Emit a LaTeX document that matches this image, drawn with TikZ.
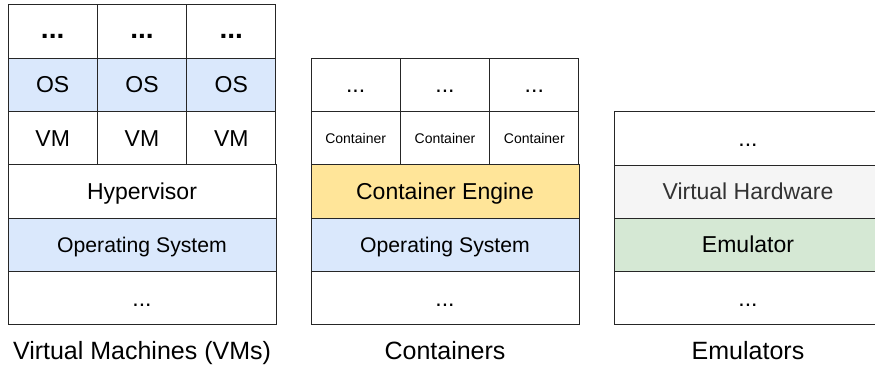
\documentclass[tikz,border=0pt]{standalone}
\usepackage{fontspec}
\setmainfont{Liberation Sans}
\usetikzlibrary{positioning}
\definecolor{osblue}{HTML}{DAE8FC}
\definecolor{engineyellow}{HTML}{FFE599}
\definecolor{hwgray}{HTML}{F5F5F5}
\definecolor{emugreen}{HTML}{D5E8D4}
\definecolor{hwtext}{HTML}{333333}

\begin{document}
\begin{tikzpicture}[x=1pt, y=-1pt,
    cell/.style={draw=black!85, line width=1pt, inner sep=0pt, outer sep=0pt, minimum height=53.33pt, text height=16pt, text depth=0pt, font=\fontsize{23}{27}\selectfont},
    wide/.style={cell, minimum width=268pt},
    narrow/.style={cell, minimum width=89.33pt},
    hostos/.style={wide, fill=osblue, font=\fontsize{21.2}{25}\selectfont},
    bigdots/.style={font=\fontsize{28}{30}\selectfont\bfseries, text height=13pt},
    small/.style={font=\fontsize{14}{17}\selectfont, text height=10pt},
    caption/.style={font=\fontsize{25}{30}\selectfont, text height=18pt, text depth=0pt, inner sep=0pt}]
  \useasboundingbox (0,0) rectangle (875,369);
  % virtual machines
  \node[narrow, bigdots, anchor=north west] (vmtopa) at (8,5) {...};
  \node[narrow, bigdots, right=0pt of vmtopa] (vmtopb) {...};
  \node[narrow, bigdots, right=0pt of vmtopb] (vmtopc) {...};
  \node[narrow, fill=osblue, below=0pt of vmtopa] (guesta) {OS};
  \node[narrow, fill=osblue, right=0pt of guesta] (guestb) {OS};
  \node[narrow, fill=osblue, right=0pt of guestb] (guestc) {OS};
  \node[narrow, below=0pt of guesta] (vma) {VM};
  \node[narrow, right=0pt of vma] (vmb) {VM};
  \node[narrow, right=0pt of vmb] (vmc) {VM};
  \node[wide, anchor=north west] (hyp) at (vma.south west) {Hypervisor};
  \node[hostos, below=0pt of hyp] (vmos) {Operating System};
  \node[wide, below=0pt of vmos] (vmbase) {...};
  \node[caption] (vmcap) at ([yshift=-26pt]vmbase.south) {Virtual Machines (VMs)};
  % containers
  \node[narrow, anchor=north west] (ctopa) at (311,58.33) {...};
  \node[narrow, right=0pt of ctopa] (ctopb) {...};
  \node[narrow, right=0pt of ctopb] (ctopc) {...};
  \node[narrow, small, below=0pt of ctopa] (conta) {Container};
  \node[narrow, small, right=0pt of conta] (contb) {Container};
  \node[narrow, small, right=0pt of contb] (contc) {Container};
  \node[wide, fill=engineyellow, anchor=north west] (engine) at (conta.south west) {Container Engine};
  \node[hostos, below=0pt of engine] (cos) {Operating System};
  \node[wide, below=0pt of cos] (cbase) {...};
  \node[caption] (ccap) at ([yshift=-26pt]cbase.south) {Containers};
  % emulators
  \node[wide, anchor=north west] (emtop) at (614,111.67) {...};
  \node[wide, fill=hwgray, text=hwtext, below=0pt of emtop] (vhw) {Virtual Hardware};
  \node[wide, fill=emugreen, below=0pt of vhw] (emu) {Emulator};
  \node[wide, below=0pt of emu] (embase) {...};
  \node[caption] (emcap) at ([yshift=-26pt]embase.south) {Emulators};
\end{tikzpicture}
\end{document}
